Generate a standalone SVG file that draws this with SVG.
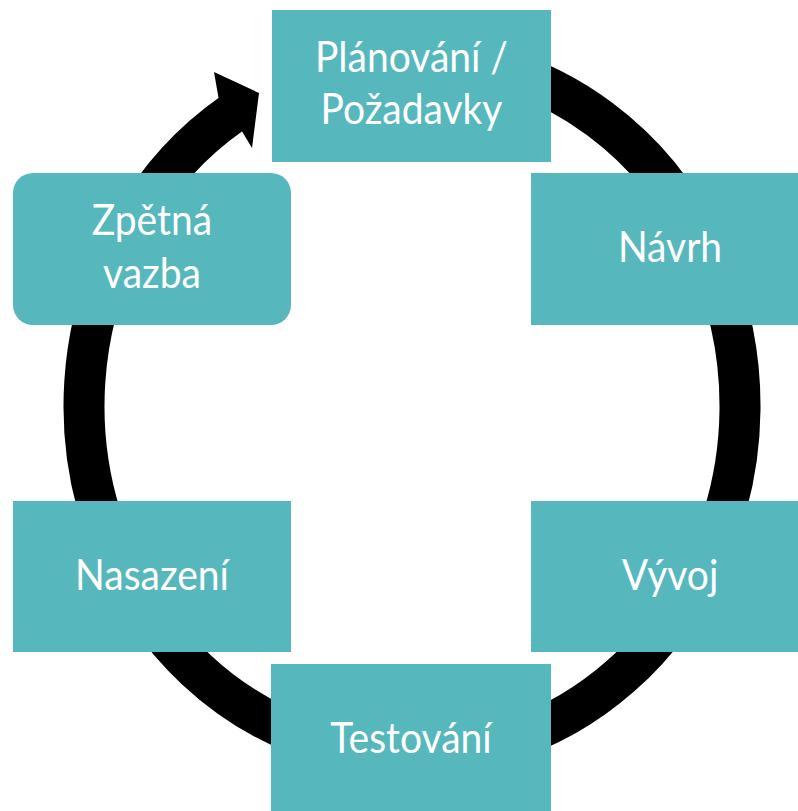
<svg xmlns="http://www.w3.org/2000/svg" width="798" height="811" viewBox="0 0 798 811">
<style>
.box{fill:#56B8BD}
.lbl{font-family:Lato,"Open Sans","Liberation Sans",sans-serif;font-size:39px;fill:#FFFFFF;text-anchor:middle}
.ring{fill:none;stroke:#000000;stroke-width:41;stroke-linecap:butt}
</style>
<rect width="798" height="811" fill="#FFFFFF"/>
<g id="connectors">
<path class="ring" d="M 468.96 61.32 A 328 350 0 1 1 231.9 113.5"/>
<polygon points="218.5,97.8 214,72 259,93 252,148 242.1,131.4" fill="#000000"/>
</g>
<g id="planovani">
<rect class="box" x="272" y="10" width="279" height="152"/>
<text class="lbl" transform="translate(411.5,72) scale(1,1.1)">Plánování /</text>
<text class="lbl" transform="translate(411.5,124) scale(1,1.1)">Požadavky</text>
</g>
<g id="navrh">
<rect class="box" x="531" y="173" width="278" height="152"/>
<text class="lbl" transform="translate(670,262) scale(1,1.1)">Návrh</text>
</g>
<g id="vyvoj">
<rect class="box" x="531" y="501" width="278" height="151"/>
<text class="lbl" transform="translate(670,590) scale(1,1.1)">Vývoj</text>
</g>
<g id="testovani">
<rect class="box" x="271" y="664" width="280" height="152"/>
<text class="lbl" transform="translate(411,753) scale(1,1.1)">Testování</text>
</g>
<g id="nasazeni">
<rect class="box" x="13" y="501" width="278" height="151"/>
<text class="lbl" transform="translate(152,590) scale(1,1.1)">Nasazení</text>
</g>
<g id="zpetna-vazba">
<rect class="box" x="13" y="173" width="278" height="152" rx="20" ry="20"/>
<text class="lbl" transform="translate(152,235) scale(1,1.1)">Zpětná</text>
<text class="lbl" transform="translate(152,288) scale(1,1.1)">vazba</text>
</g>
</svg>
